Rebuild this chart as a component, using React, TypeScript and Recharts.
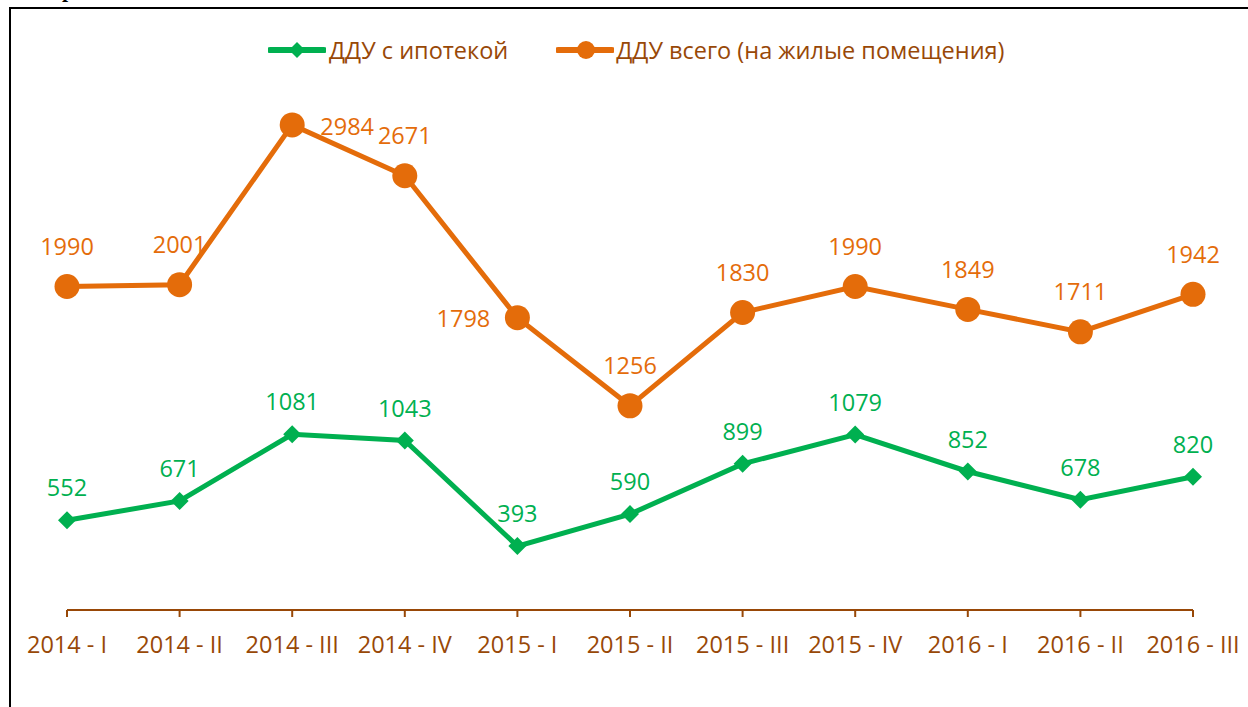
import { LineChart, Line, XAxis, YAxis, LabelList } from "recharts";

const categories = [
  "2014 - I",
  "2014 - II",
  "2014 - III",
  "2014 - IV",
  "2015 - I",
  "2015 - II",
  "2015 - III",
  "2015 - IV",
  "2016 - I",
  "2016 - II",
  "2016 - III",
];
const mortgageValues = [552, 671, 1081, 1043, 393, 590, 899, 1079, 852, 678, 820];
const totalValues = [1990, 2001, 2984, 2671, 1798, 1256, 1830, 1990, 1849, 1711, 1942];

const mortgageName = "ДДУ с ипотекой";
const totalName = "ДДУ всего (на жилые помещения)";

// where excel put each orange label
const totalLabelPos = ["top", "top", "right", "top", "left", "top", "top", "top", "top", "top", "top"];

const GREEN = "#00B050";
const ORANGE = "#E46C0A";
const BROWN = "#984807";
const FONT = "'Open Sans', sans-serif";
const FS = 23.5;

const data = categories.map((c, i) => ({
  name: c,
  mortgage: mortgageValues[i],
  total: totalValues[i],
}));

const Diamond = (props: any) => {
  const { cx, cy } = props;
  if (cx == null || cy == null) return null;
  const s = 9;
  return (
    <path
      d={`M${cx},${cy - s}L${cx + s},${cy}L${cx},${cy + s}L${cx - s},${cy}Z`}
      fill={GREEN}
    />
  );
};

const greenLabel = (props: any) => {
  const { x, y, value } = props;
  return (
    <text x={x} y={y - 32} dy="0.35em" textAnchor="middle" fill={GREEN} fontSize={FS} fontFamily={FONT}>
      {value}
    </text>
  );
};

const orangeLabel = (props: any) => {
  const { x, y, value, index } = props;
  const pos = totalLabelPos[index];
  let lx = x;
  let ly = y - 40;
  if (pos === "right") {
    lx = x + 55;
    ly = y + 2;
  } else if (pos === "left") {
    lx = x - 54;
    ly = y + 1;
  }
  return (
    <text x={lx} y={ly} dy="0.35em" textAnchor="middle" fill={ORANGE} fontSize={FS} fontFamily={FONT}>
      {value}
    </text>
  );
};

export default function App() {
  return (
    <div>
      <div
        style={{
          position: "absolute",
          left: 62,
          top: -22,
          fontFamily: "'Liberation Serif', serif",
          fontWeight: "bold",
          fontSize: 22,
          lineHeight: "24px",
        }}
      >
        р
      </div>
      <div
        style={{
          position: "absolute",
          left: 9,
          top: 7,
          width: 1237,
          height: 698,
          borderLeft: "2px solid #000",
          borderTop: "2px solid #000",
          background: "#fff",
        }}
      >
        <div
          style={{
            position: "absolute",
            left: 0,
            top: 25,
            width: "100%",
            display: "flex",
            justifyContent: "flex-start",
            alignItems: "center",
            paddingLeft: 257,
            fontFamily: FONT,
            fontSize: FS,
            color: BROWN,
          }}
        >
          <svg width={58} height={24} style={{ marginRight: 3 }}>
            <line x1={2} y1={12} x2={56} y2={12} stroke={GREEN} strokeWidth={6} strokeLinecap="round" />
            <path d="M29,4L37,12L29,20L21,12Z" fill={GREEN} />
          </svg>
          <span style={{ marginRight: 48 }}>{mortgageName}</span>
          <svg width={58} height={24} style={{ marginRight: 2 }}>
            <line x1={2} y1={12} x2={56} y2={12} stroke={ORANGE} strokeWidth={6} strokeLinecap="round" />
            <circle cx={30} cy={12} r={9} fill={ORANGE} />
          </svg>
          <span>{totalName}</span>
        </div>
        <LineChart
          width={1237}
          height={698}
          data={data}
          margin={{ top: 32, right: 55, bottom: 67, left: 56 }}
        >
          <XAxis
            dataKey="name"
            stroke={BROWN}
            strokeWidth={2}
            tickSize={7}
            tickMargin={19}
            tick={{ fill: BROWN, fontSize: FS, fontFamily: FONT }}
            interval={0}
            height={30}
          />
          <YAxis hide domain={[0, 3500]} />
          <Line
            dataKey="mortgage"
            name={mortgageName}
            stroke={GREEN}
            strokeWidth={5}
            dot={<Diamond />}
            activeDot={false}
            isAnimationActive={false}
          >
            <LabelList dataKey="mortgage" content={greenLabel} />
          </Line>
          <Line
            dataKey="total"
            name={totalName}
            stroke={ORANGE}
            strokeWidth={5}
            dot={{ r: 12.5, fill: ORANGE, stroke: ORANGE, strokeWidth: 0 }}
            activeDot={false}
            isAnimationActive={false}
          >
            <LabelList dataKey="total" content={orangeLabel} />
          </Line>
        </LineChart>
      </div>
    </div>
  );
}
